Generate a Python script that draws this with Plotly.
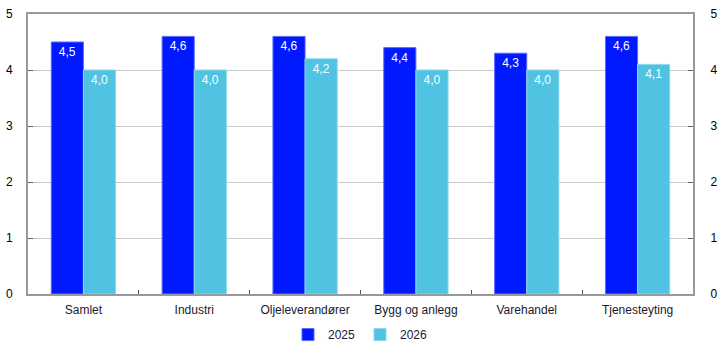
import plotly.graph_objects as go

categories = ["Samlet", "Industri", "Oljeleverandører", "Bygg og anlegg", "Varehandel", "Tjenesteyting"]
values_2025 = [4.5, 4.6, 4.6, 4.4, 4.3, 4.6]
values_2026 = [4.0, 4.0, 4.2, 4.0, 4.0, 4.1]
y_ticks = [0, 1, 2, 3, 4, 5]

def fmt(v):
    return f"{v:.1f}".replace(".", ",")

fig = go.Figure()
fig.add_trace(go.Bar(
    name="2025", x=categories, y=values_2025,
    marker=dict(color="#0019FF", line=dict(color="#5C6BFF", width=1)),
    text=[fmt(v) for v in values_2025], textposition="inside",
    insidetextanchor="end", textfont=dict(color="white", size=12),
))
fig.add_trace(go.Bar(
    name="2026", x=categories, y=values_2026,
    marker=dict(color="#4FC3E1", line=dict(color="#8ED8EC", width=1)),
    text=[fmt(v) for v in values_2026], textposition="inside",
    insidetextanchor="end", textfont=dict(color="white", size=12),
))
# invisible trace for right axis
fig.add_trace(go.Scatter(x=categories, y=values_2025, yaxis="y2", mode="markers",
                         marker=dict(opacity=0), showlegend=False, hoverinfo="skip"))

fig.update_layout(
    width=722, height=356,
    margin=dict(l=28, r=29, t=14, b=62, autoexpand=False),
    paper_bgcolor="white", plot_bgcolor="white",
    font=dict(family="Liberation Sans, Arial, sans-serif", size=12, color="#000000"),
    barmode="group", bargap=0.42, bargroupgap=0,
    xaxis=dict(
        type="category", tickson="boundaries", ticks="inside", ticklen=4,
        tickcolor="#555555", showline=True, linecolor="#999999", linewidth=2,
        mirror=True, showgrid=False, tickfont=dict(size=12, color="#1a1a2e"),
        automargin=False, ticklabelstandoff=4,
    ),
    yaxis=dict(
        range=[0, 5], tickvals=y_ticks, showgrid=True, gridcolor="#C8C8C8",
        gridwidth=1, showline=True, linecolor="#999999", linewidth=2,
        ticks="inside", ticklen=5, tickcolor="#666666", zeroline=False,
        tickfont=dict(size=12), ticklabelstandoff=11, automargin=False,
        ticklabeloverflow="allow",
    ),
    yaxis2=dict(
        range=[0, 5], tickvals=y_ticks, overlaying="y", side="right",
        showgrid=False, showline=True, linecolor="#999999", linewidth=2,
        ticks="inside", ticklen=5, tickcolor="#666666", zeroline=False,
        tickfont=dict(size=12), ticklabelstandoff=13, automargin=False,
        ticklabeloverflow="allow",
    ),
    legend=dict(orientation="h", x=0.5, xanchor="center", y=-0.093, yanchor="top",
                font=dict(size=12, color="#1a1a2e"), itemwidth=30, traceorder="normal"),
    showlegend=True,
)

fig.write_html("out.html", config={"displayModeBar": False},
               post_script="document.body.style.margin='0';")
